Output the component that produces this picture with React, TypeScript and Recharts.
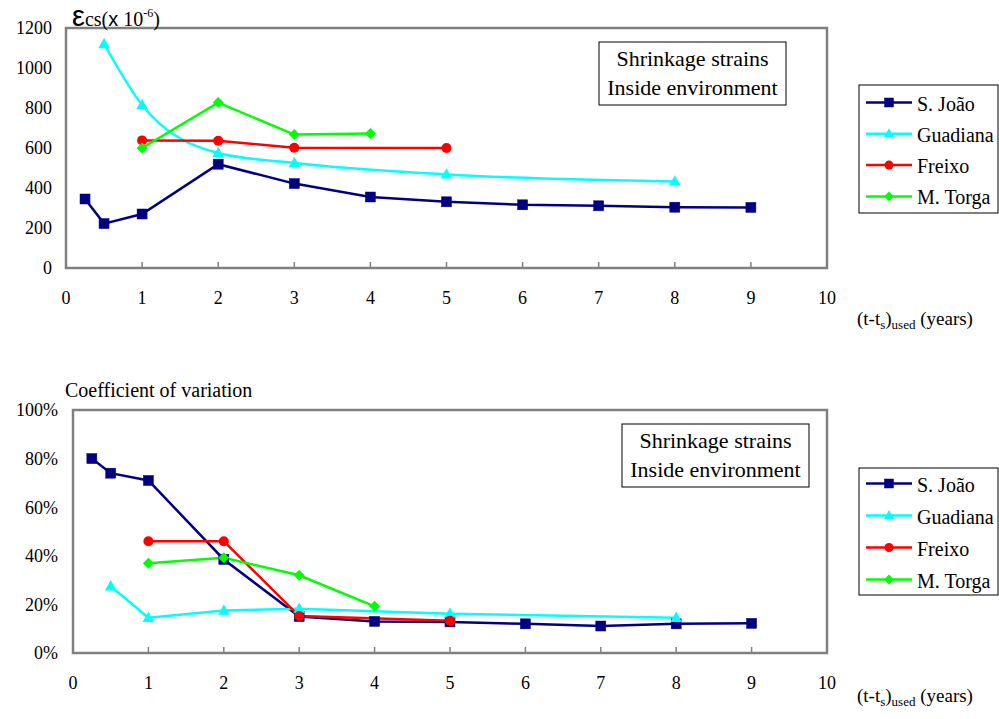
import React from 'react';
import { LineChart, Line, XAxis, YAxis, ReferenceArea } from 'recharts';

// ---------- data ----------
const xTicks = [0, 1, 2, 3, 4, 5, 6, 7, 8, 9, 10];
const strainTicks = [0, 200, 400, 600, 800, 1000, 1200];
const covTicks = [0, 0.2, 0.4, 0.6, 0.8, 1];

const seriesNames = ['S. João', 'Guadiana', 'Freixo', 'M. Torga'];

const sjoaoX = [0.25, 0.5, 1, 2, 3, 4, 5, 6, 7, 8, 9];
const sjoaoStrain = [345, 222, 270, 519, 422, 355, 331, 316, 311, 304, 303];
const sjoaoCov = [0.8, 0.74, 0.71, 0.385, 0.15, 0.13, 0.128, 0.12, 0.111, 0.12, 0.122];

const guadianaX = [0.5, 1, 2, 3, 5, 8];
const guadianaStrain = [1120, 815, 575, 525, 468, 433];
const guadianaCov = [0.275, 0.145, 0.175, 0.182, 0.162, 0.145];

const freixoX = [1, 2, 3, 5];
const freixoStrain = [638, 636, 601, 600];
const freixoCov = [0.46, 0.46, 0.152, 0.133];

const torgaX = [1, 2, 3, 4];
const torgaStrain = [600, 827, 667, 672];
const torgaCov = [0.369, 0.392, 0.32, 0.192];

// ---------- styling ----------
const SERIF = '"Liberation Serif", "Times New Roman", Times, serif';
const SANS = '"Liberation Sans", Arial, sans-serif';
const BORDER = '#808080';

type Shape = 'square' | 'triangle' | 'circle' | 'diamond';

const zip = (xs: number[], ys: number[]) => xs.map((x, i) => ({ x, y: ys[i] }));

const seriesStyle = [
  { color: '#000080', shape: 'square' as Shape },
  { color: '#00FFFF', shape: 'triangle' as Shape },
  { color: '#FF0000', shape: 'circle' as Shape },
  { color: '#00FF00', shape: 'diamond' as Shape },
];

const strainSeries = [
  { data: zip(sjoaoX, sjoaoStrain), curve: 'linear' },
  { data: zip(guadianaX, guadianaStrain), curve: 'monotone' },
  { data: zip(freixoX, freixoStrain), curve: 'linear' },
  { data: zip(torgaX, torgaStrain), curve: 'linear' },
];

const covSeries = [
  { data: zip(sjoaoX, sjoaoCov), curve: 'linear' },
  { data: zip(guadianaX, guadianaCov), curve: 'linear' },
  { data: zip(freixoX, freixoCov), curve: 'linear' },
  { data: zip(torgaX, torgaCov), curve: 'linear' },
];

function Marker({ shape, cx, cy, color, s = 10 }: { shape: Shape; cx: number; cy: number; color: string; s?: number }) {
  if (cx == null || cy == null || isNaN(cx) || isNaN(cy)) return <g />;
  switch (shape) {
    case 'square':
      return <rect x={cx - s / 2} y={cy - s / 2} width={s} height={s} fill={color} stroke={color} strokeWidth={0.5} />;
    case 'triangle':
      return (
        <polygon
          points={`${cx},${cy - s * 0.62} ${cx - s * 0.58},${cy + s * 0.42} ${cx + s * 0.58},${cy + s * 0.42}`}
          fill={color}
        />
      );
    case 'circle':
      return <circle cx={cx} cy={cy} r={s / 2} fill={color} />;
    case 'diamond':
    default:
      return (
        <polygon
          points={`${cx},${cy - s * 0.55} ${cx + s * 0.55},${cy} ${cx},${cy + s * 0.55} ${cx - s * 0.55},${cy}`}
          fill={color}
        />
      );
  }
}

const XTick = (props: any) => {
  const { x, y, payload } = props;
  return (
    <g>
      <line x1={x} x2={x} y1={y} y2={y - 6} stroke={BORDER} strokeWidth={1.5} />
      <text x={x} y={y + 35.5} textAnchor="middle" fontFamily={SERIF} fontSize={18} fill="#000">
        {payload.value}
      </text>
    </g>
  );
};

function Chart({
  top,
  yTicks,
  yMax,
  series,
  yAxisWidth,
  marginTop,
  marginBottom,
  yFormatter,
  yTickMargin,
}: any) {
  return (
    <div style={{ position: 'absolute', left: 0, top, width: 999, height: 340 }}>
      <LineChart
        width={999}
        height={340}
        margin={{ top: marginTop, right: 172, bottom: marginBottom, left: 0 }}
      >
        <XAxis
          dataKey="x"
          type="number"
          domain={[0, 10]}
          ticks={xTicks}
          interval={0}
          axisLine={false}
          tickLine={false}
          tickSize={0}
          tickMargin={0}
          height={30}
          tick={<XTick />}
        />
        <YAxis
          type="number"
          domain={[0, yMax]}
          ticks={yTicks}
          interval={0}
          width={yAxisWidth}
          axisLine={false}
          tickLine={false}
          tickSize={0}
          tickMargin={yTickMargin}
          tickFormatter={yFormatter}
          tick={{ fontFamily: SERIF, fontSize: 18, fill: '#000' }}
        />
        <ReferenceArea
          x1={0}
          x2={10}
          y1={0}
          y2={yMax}
          fill="none"
          fillOpacity={0}
          stroke={BORDER}
          strokeWidth={2.5}
          ifOverflow="visible"
        />
        {series.map((s: any, i: number) => (
          <Line
            key={seriesNames[i]}
            name={seriesNames[i]}
            data={s.data}
            dataKey="y"
            type={s.curve}
            stroke={seriesStyle[i].color}
            strokeWidth={2.5}
            isAnimationActive={false}
            activeDot={false}
            dot={(p: any) => (
              <Marker
                key={`${seriesNames[i]}-${p.index}`}
                shape={seriesStyle[i].shape}
                cx={p.cx}
                cy={p.cy}
                color={seriesStyle[i].color}
                s={seriesStyle[i].shape === 'circle' ? 10 : 10}
              />
            )}
          />
        ))}
      </LineChart>
    </div>
  );
}

function LegendBox({ x, y, w, h, firstRow, step }: any) {
  return (
    <g>
      <rect x={x} y={y} width={w} height={h} fill="#fff" stroke="#000" strokeWidth={1} />
      {seriesNames.map((name, i) => {
        const cy = firstRow + i * step;
        return (
          <g key={name}>
            <line x1={866} x2={912} y1={cy} y2={cy} stroke={seriesStyle[i].color} strokeWidth={2.5} />
            <Marker shape={seriesStyle[i].shape} cx={889} cy={cy} color={seriesStyle[i].color} s={9} />
            <text x={917} y={cy + 8} fontFamily={SERIF} fontSize={20} fill="#000">
              {name}
            </text>
          </g>
        );
      })}
    </g>
  );
}

function NoteBox({ x, y, w, h, b1, b2 }: any) {
  const cx = x + w / 2;
  return (
    <g>
      <rect x={x} y={y} width={w} height={h} fill="#fff" stroke="#000" strokeWidth={1} />
      <text x={cx} y={b1} textAnchor="middle" fontFamily={SERIF} fontSize={22} fill="#000">
        Shrinkage strains
      </text>
      <text x={cx} y={b2} textAnchor="middle" fontFamily={SERIF} fontSize={22} fill="#000">
        Inside environment
      </text>
    </g>
  );
}

function XLabel({ y }: { y: number }) {
  return (
    <text x={857} y={y} fontFamily={SERIF} fontSize={19} fill="#000">
      <tspan>(t-t</tspan>
      <tspan fontSize={13} dy={4}>s</tspan>
      <tspan dy={-4}>)</tspan>
      <tspan fontSize={13} dy={4}>used</tspan>
      <tspan dy={-4}> (years)</tspan>
    </text>
  );
}

export default function App() {
  return (
    <div style={{ position: 'absolute', left: 0, top: 0, width: 999, height: 719, background: '#fff' }}>
      <Chart
        top={0}
        yTicks={strainTicks}
        yMax={1200}
        series={strainSeries}
        yAxisWidth={66}
        marginTop={28}
        marginBottom={42}
        yTickMargin={14}
        yFormatter={(v: number) => String(v)}
      />
      <Chart
        top={360}
        yTicks={covTicks}
        yMax={1}
        series={covSeries}
        yAxisWidth={73}
        marginTop={50}
        marginBottom={17}
        yTickMargin={15}
        yFormatter={(v: number) => `${Math.round(v * 100)}%`}
      />
      <svg
        width={999}
        height={719}
        style={{ position: 'absolute', left: 0, top: 0, pointerEvents: 'none' }}
      >
        <text x={72} y={26} fontFamily={SERIF} fontSize={20} fill="#000">
          <tspan fontSize={29} fontFamily={SANS}>ε</tspan>
          <tspan>cs(</tspan>
          <tspan fontFamily={SANS}>x</tspan>
          <tspan> 10</tspan>
          <tspan fontSize={12} dy={-9}>-6</tspan>
          <tspan dy={9}>)</tspan>
        </text>
        <text x={65} y={397} fontFamily={SERIF} fontSize={20} fill="#000">
          Coefficient of variation
        </text>
        <NoteBox x={599} y={42} w={187} h={63} b1={65.5} b2={95} />
        <NoteBox x={622} y={424} w={187} h={63} b1={448.3} b2={476.7} />
        <LegendBox x={859} y={85} w={139} h={128} firstRow={102.5} step={31.3} />
        <LegendBox x={859} y={468} w={139} h={127} firstRow={483.5} step={32} />
        <XLabel y={325} />
        <XLabel y={701.5} />
      </svg>
    </div>
  );
}
